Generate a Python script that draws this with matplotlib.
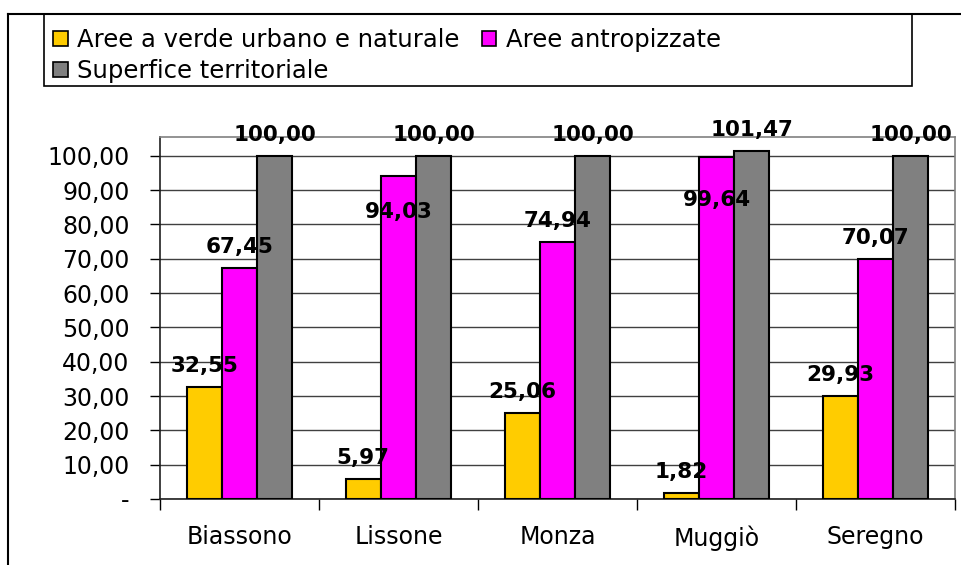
import matplotlib.pyplot as plt
from matplotlib.patches import Rectangle, Patch
from matplotlib.lines import Line2D
import numpy as np

comuni = ["Biassono", "Lissone", "Monza", "Muggiò", "Seregno"]
verde = [32.55, 5.97, 25.06, 1.82, 29.93]
antropizzate = [67.45, 94.03, 74.94, 99.64, 70.07]
superficie = [100.00, 100.00, 100.00, 101.47, 100.00]
serie_nomi = ["Aree a verde urbano e naturale", "Aree antropizzate", "Superfice territoriale"]
colori = ["#FFCC00", "#FF00FF", "#808080"]
y_ticks = [0, 10, 20, 30, 40, 50, 60, 70, 80, 90, 100]

# etichette spostate a mano dentro la barra (serie, comune) -> offset in punti
spostate = {(1, 1): -26, (1, 3): -31}


def fmt(v):
    return ("%.2f" % v).replace(".", ",")


fig = plt.figure(figsize=(9.62, 5.65), dpi=100)
ax = fig.add_axes([160 / 962, 66 / 565, 795 / 962, 362 / 565])

x = np.arange(len(comuni))
w = 0.222
for i, serie in enumerate([verde, antropizzate, superficie]):
    pos = x + (i - 1) * w
    ax.bar(pos, serie, w, color=colori[i], edgecolor="black", linewidth=1.5, zorder=3)
    for j, (px, v) in enumerate(zip(pos, serie)):
        dy = spostate.get((i, j), 15)
        ax.annotate(fmt(v), (px, v), xytext=(0, dy), textcoords="offset points",
                    ha="center", va="center", fontsize=15.5, fontweight="bold", zorder=5)

ax.set_xlim(-0.5, len(comuni) - 0.5)
ax.set_ylim(0, 105.5)
ax.set_yticks(y_ticks)
ax.set_yticklabels(["-"] + [fmt(v) for v in y_ticks[1:]], fontsize=17)
ax.yaxis.grid(True, color="#404040", linewidth=1)
ax.set_axisbelow(True)

ax.set_xticks(np.arange(-0.5, len(comuni), 1.0))
ax.set_xticklabels([])
ax.set_xticks(x, minor=True)
ax.set_xticklabels(comuni, minor=True, fontsize=17)
ax.tick_params(axis="x", which="major", length=8, width=1, direction="out")
ax.tick_params(axis="x", which="minor", length=0, pad=19)
ax.tick_params(axis="y", length=7, width=1, pad=15)

ax.spines["left"].set_color("#202020")
ax.spines["bottom"].set_color("#202020")
ax.spines["top"].set_color("#808080")
ax.spines["right"].set_color("#808080")
for s in ax.spines.values():
    s.set_linewidth(1.2)

# cornice esterna del grafico
fig.add_artist(Line2D([8 / 962, 1], [1 - 14 / 565, 1 - 14 / 565], color="black", lw=1.5))
fig.add_artist(Line2D([8 / 962, 8 / 962], [0, 1 - 14 / 565], color="black", lw=1.5))

# riquadro della legenda
fig.add_artist(Rectangle((44 / 962, 1 - 86 / 565), 868 / 962, 72 / 565, transform=fig.transFigure,
                         facecolor="white", edgecolor="black", lw=1.2))
handles = [Patch(facecolor=colori[0], edgecolor="black", lw=1.2, label=serie_nomi[0]),
           Patch(facecolor=colori[2], edgecolor="black", lw=1.2, label=serie_nomi[2]),
           Patch(facecolor=colori[1], edgecolor="black", lw=1.2, label=serie_nomi[1])]
fig.legend(handles=handles, ncol=2, loc="upper left", bbox_to_anchor=(36 / 962, 1 - 11 / 565),
           frameon=False, fontsize=17.5, handlelength=0.6, handleheight=0.6, handletextpad=0.4,
           columnspacing=0.9, labelspacing=0.3, borderpad=0.2)

fig.savefig("out.png", dpi=100)
